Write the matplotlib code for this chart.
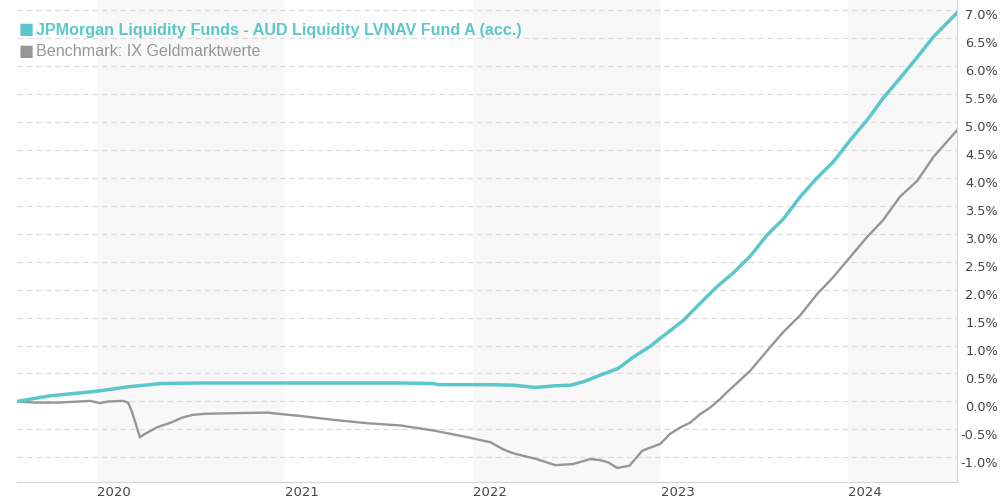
import numpy as np
import pandas as pd
import matplotlib
matplotlib.use('Agg')
import matplotlib.pyplot as plt
import matplotlib.transforms as mtransforms

# values (cumulative performance in %)
fund_dates = ['2019-07-29', '2019-10-01', '2019-12-18', '2020-01-06', '2020-02-14',
              '2020-02-28', '2020-04-13', '2020-05-03', '2020-07-19', '2021-01-30',
              '2021-08-13', '2021-10-16', '2021-10-25', '2022-02-04', '2022-03-21',
              '2022-05-02', '2022-06-10', '2022-07-09', '2022-08-03', '2022-09-05',
              '2022-10-10', '2022-11-08', '2022-12-12', '2022-12-31', '2023-02-14',
              '2023-03-18', '2023-04-20', '2023-05-22', '2023-06-24', '2023-07-27',
              '2023-08-27', '2023-09-29', '2023-11-01', '2023-12-02', '2024-01-04',
              '2024-02-06', '2024-03-08', '2024-04-10', '2024-05-14', '2024-06-14',
              '2024-07-30']
fund_values = [0.00, 0.10, 0.17, 0.19, 0.24,
               0.26, 0.30, 0.32, 0.33, 0.33,
               0.33, 0.32, 0.30, 0.30, 0.29,
               0.25, 0.28, 0.29, 0.35, 0.47,
               0.59, 0.79, 0.99, 1.13, 1.45,
               1.75, 2.05, 2.30, 2.60, 2.98,
               3.26, 3.66, 4.00, 4.28, 4.67,
               5.03, 5.42, 5.78, 6.16, 6.52,
               6.95]

bench_dates = ['2019-07-29', '2019-09-01', '2019-10-20', '2019-12-18', '2020-01-06',
               '2020-01-24', '2020-02-20', '2020-03-01', '2020-03-08', '2020-03-16',
               '2020-03-24', '2020-04-03', '2020-04-27', '2020-05-23', '2020-06-14',
               '2020-07-05', '2020-07-30', '2020-09-22', '2020-11-27', '2020-12-28',
               '2021-01-30', '2021-04-05', '2021-06-10', '2021-08-13', '2021-10-16',
               '2021-12-21', '2022-02-04', '2022-03-01', '2022-03-21', '2022-05-04',
               '2022-06-10', '2022-07-14', '2022-08-17', '2022-09-05', '2022-09-21',
               '2022-10-08', '2022-11-01', '2022-11-26', '2022-12-31', '2023-01-19',
               '2023-02-09', '2023-02-28', '2023-03-18', '2023-04-07', '2023-04-26',
               '2023-05-09', '2023-06-03', '2023-06-24', '2023-07-27', '2023-08-27',
               '2023-09-29', '2023-11-01', '2023-12-02', '2024-01-04', '2024-02-06',
               '2024-03-08', '2024-04-10', '2024-05-14', '2024-06-14', '2024-07-30']
bench_values = [0.00, -0.02, -0.02, 0.01, -0.03,
                0.00, 0.01, -0.02, -0.17, -0.40,
                -0.64, -0.58, -0.46, -0.38, -0.29,
                -0.24, -0.22, -0.21, -0.20, -0.23,
                -0.26, -0.33, -0.39, -0.43, -0.52,
                -0.64, -0.73, -0.86, -0.93, -1.03,
                -1.14, -1.12, -1.03, -1.05, -1.09,
                -1.19, -1.15, -0.88, -0.76, -0.58,
                -0.46, -0.375, -0.23, -0.11, 0.04,
                0.16, 0.37, 0.55, 0.91, 1.24,
                1.54, 1.92, 2.22, 2.58, 2.94,
                3.24, 3.66, 3.95, 4.37, 4.85]

year_ticks = ['2020', '2021', '2022', '2023', '2024']
y_ticks = [-1.0, -0.5, 0.0, 0.5, 1.0, 1.5, 2.0, 2.5, 3.0, 3.5, 4.0, 4.5, 5.0, 5.5, 6.0, 6.5, 7.0]
y_labels = ['%.1f%%' % v for v in y_ticks]

fund_name = 'JPMorgan Liquidity Funds - AUD Liquidity LVNAV Fund A (acc.)'
bench_name = 'Benchmark: IX Geldmarktwerte'

teal = '#5bc7cc'
grey = '#969696'

fig = plt.figure(figsize=(10, 5), dpi=100)
ax = fig.add_axes([0.017, 0.037, 0.94, 0.963])

fx = pd.to_datetime(fund_dates)
bx = pd.to_datetime(bench_dates)
x_start = pd.Timestamp('2019-07-29')
x_end = pd.Timestamp('2024-07-30')

# shaded year bands (every other year)
for yr in [2020, 2022, 2024]:
    ax.axvspan(pd.Timestamp('%d-01-01' % yr), pd.Timestamp('%d-01-01' % (yr + 1)),
               color='#f8f8f8', zorder=0, lw=0)

ax.plot(bx, bench_values, color=grey, lw=1.7, zorder=3, solid_joinstyle='round')
ax.plot(fx, fund_values, color=teal, lw=2.5, zorder=4, solid_joinstyle='round')

ax.set_xlim(x_start, x_end)
ax.set_ylim(-1.432, 7.18)

ax.yaxis.tick_right()
ax.set_yticks(y_ticks)
ax.set_yticklabels(y_labels)
ax.yaxis.grid(True, color='#dcdcdc', lw=0.9, dashes=(4.5, 3.0), zorder=1)
ax.xaxis.grid(False)

ax.set_xticks(pd.to_datetime([y + '-01-01' for y in year_ticks]))
ax.set_xticklabels(year_ticks)

ax.tick_params(axis='y', length=0, pad=29.5, labelsize=9.3, labelcolor='#444444')
ax.tick_params(axis='x', length=0, pad=3, labelsize=9.5, labelcolor='#444444')
for lab in ax.get_yticklabels():
    lab.set_horizontalalignment('right')
    lab.set_transform(lab.get_transform() + mtransforms.ScaledTranslation(0, -3 / 72, fig.dpi_scale_trans))
for lab in ax.get_xticklabels():
    lab.set_horizontalalignment('left')

for s in ['top', 'left']:
    ax.spines[s].set_visible(False)
ax.spines['right'].set_color('#d4d4d4')
ax.spines['bottom'].set_color('#d4d4d4')
ax.set_axisbelow(True)

# legend drawn as text in the top-left corner
fig.text(0.019, 0.940, '\u25a0', color=teal, fontsize=11.5, va='center', family='DejaVu Sans')
fig.text(0.036, 0.940, fund_name, color=teal, fontsize=11.6, fontweight='bold',
         va='center', family='Liberation Sans')
fig.text(0.019, 0.896, '\u25a0', color=grey, fontsize=11.5, va='center', family='DejaVu Sans')
fig.text(0.036, 0.896, bench_name, color=grey, fontsize=11.6, va='center', family='Liberation Sans')

fig.savefig('out.png', dpi=100)
